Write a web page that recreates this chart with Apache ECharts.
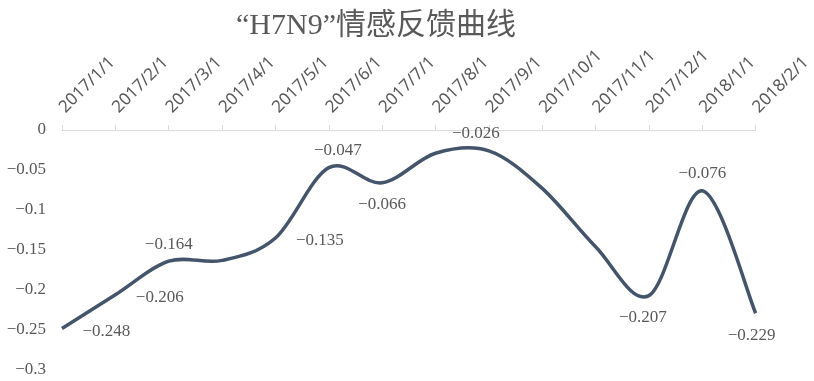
<!DOCTYPE html>
<html>
<head>
<meta charset="utf-8">
<script src="https://cdn.jsdelivr.net/npm/echarts@6/dist/echarts.min.js"></script>
<style>html,body{margin:0;padding:0;background:#fff}#c{width:814px;height:381px}</style>
</head>
<body>
<div id="c"></div>
<script>
const titleText = '“H7N9”情感反馈曲线';
const categories = ['2017/1/1','2017/2/1','2017/3/1','2017/4/1','2017/5/1','2017/6/1','2017/7/1','2017/8/1','2017/9/1','2017/10/1','2017/11/1','2017/12/1','2018/1/1','2018/2/1'];
const sentiment = [-0.248, -0.206, -0.164, -0.163, -0.135, -0.047, -0.066, -0.029, -0.026, -0.073, -0.146, -0.207, -0.076, -0.229];
const yTicks = [0, -0.05, -0.1, -0.15, -0.2, -0.25, -0.3];

// label placement per point (style only)
const labelPlacement = ['right','right','top',null,'right','top','bottom',null,'top',null,null,'bottom','top','bottom'];
const labelDistance = {right: 20, top: 8, bottom: 13};
const labelShift = {5: [9, 0], 8: [-13, 0], 11: [-6, 0], 13: [-4, 0]};

const chart = echarts.init(document.getElementById('c'));
const fmt = v => String(v).replace('-', '\u2212');

// Catmull-Rom style smooth curve (like spreadsheet "smoothed line") through axis coordinates
function renderCurve(params, api) {
  if (params.dataIndex !== 0) return null;
  const pts = sentiment.map((v, i) => api.coord([i, v]));
  const n = pts.length;
  let d = 'M' + pts[0][0] + ' ' + pts[0][1];
  for (let i = 0; i < n - 1; i++) {
    const p0 = pts[Math.max(i - 1, 0)], p1 = pts[i], p2 = pts[i + 1], p3 = pts[Math.min(i + 2, n - 1)];
    const c1x = p1[0] + (p2[0] - p0[0]) / 6, c1y = p1[1] + (p2[1] - p0[1]) / 6;
    const c2x = p2[0] - (p3[0] - p1[0]) / 6, c2y = p2[1] - (p3[1] - p1[1]) / 6;
    d += ' C' + c1x + ' ' + c1y + ' ' + c2x + ' ' + c2y + ' ' + p2[0] + ' ' + p2[1];
  }
  return {
    type: 'path',
    shape: {pathData: d},
    style: {fill: 'none', stroke: '#44546A', lineWidth: 3.5, lineJoin: 'round', lineCap: 'butt'}
  };
}

chart.setOption({
  animation: false,
  backgroundColor: '#ffffff',
  title: {
    text: titleText,
    left: 371, top: 6, textAlign: 'center',
    textStyle: {fontFamily: "'Liberation Serif','Noto Sans CJK SC'", fontSize: 30, fontWeight: 'normal', color: '#595959'}
  },
  grid: {left: 62, right: 57, top: 130, bottom: 11},
  xAxis: {
    type: 'category', position: 'top', data: categories, boundaryGap: false,
    axisLine: {lineStyle: {color: '#D9D9D9', width: 1}},
    axisTick: {show: true, length: 5, lineStyle: {color: '#D9D9D9'}},
    axisLabel: {rotate: 45, interval: 0, margin: 20, fontSize: 17, color: '#595959', fontFamily: "'Noto Sans', sans-serif"},
    splitLine: {show: false}
  },
  yAxis: {
    type: 'value', min: -0.3, max: 0, interval: 0.05,
    axisLine: {show: false}, axisTick: {show: false}, splitLine: {show: false},
    axisLabel: {margin: 16, fontSize: 17, color: '#595959', fontFamily: "'Liberation Serif', serif",
      formatter: v => { const t = yTicks.find(x => Math.abs(x - v) < 1e-9); return fmt(t !== undefined ? t : +v.toFixed(2)); }}
  },
  series: [{
    type: 'custom', coordinateSystem: 'cartesian2d', renderItem: renderCurve,
    data: sentiment.map((v, i) => [i, v]), encode: {x: 0, y: 1}, z: 2, silent: true
  }, {
    type: 'line', showSymbol: true, symbol: 'circle', symbolSize: 1, z: 3,
    lineStyle: {width: 0, opacity: 0},
    itemStyle: {color: 'rgba(0,0,0,0)'},
    data: sentiment.map((v, i) => {
      const p = labelPlacement[i];
      const off = labelShift[i] || (p === 'right' ? [0, 3] : [0, 0]);
      return {
        value: v,
        label: p ? {show: true, position: p, distance: labelDistance[p], offset: off, formatter: d => fmt(d.value),
          fontSize: 17, color: '#595959', fontFamily: "'Liberation Serif', serif"} : {show: false}
      };
    })
  }]
});
</script>
</body>
</html>
